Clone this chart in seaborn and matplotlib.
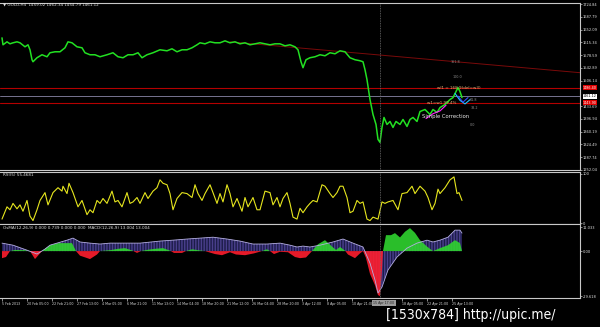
import matplotlib
matplotlib.use("Agg")
import matplotlib.pyplot as plt
import matplotlib.transforms as mtransforms
import numpy as np
import pandas as pd
import seaborn as sns

# ---------------- data ----------------
price_bar = [2, 3, 7, 10, 13, 17, 20, 25, 28, 30, 32, 33, 37, 42, 47, 50, 55, 60, 65, 68, 72, 77, 82, 85,
             90, 95, 100, 107, 113, 118, 123, 128, 133, 138, 142, 147, 153, 160, 167, 172, 177, 182, 187,
             192, 197, 200, 205, 210, 215, 220, 225, 230, 235, 240, 245, 250, 255, 260, 265, 270, 275,
             280, 285, 290, 295, 298, 301, 303, 306, 310, 315, 320, 325, 330, 335, 340, 345, 350, 355,
             360, 363, 365, 367, 370, 373, 376, 378, 380, 382, 384, 387, 390, 393, 396, 400, 403, 407,
             410, 413, 417, 420, 425, 430, 433, 437, 440, 445, 450, 453, 456, 458, 460, 462]
price_close = [1628.3, 1608.5, 1617.0, 1611.3, 1614.2, 1617.0, 1614.2, 1602.8, 1608.5, 1594.3, 1565.9,
               1560.2, 1571.6, 1580.1, 1574.4, 1585.8, 1588.6, 1588.6, 1600.0, 1617.0, 1614.2, 1602.8,
               1600.0, 1585.8, 1580.1, 1580.1, 1574.4, 1580.1, 1585.8, 1574.4, 1571.6, 1580.1, 1580.1,
               1585.8, 1571.6, 1580.1, 1585.8, 1594.3, 1591.4, 1597.1, 1588.6, 1594.3, 1594.3, 1600.0,
               1608.5, 1614.2, 1611.3, 1617.0, 1614.2, 1614.2, 1619.8, 1614.2, 1617.0, 1611.3, 1614.2,
               1608.5, 1611.3, 1614.2, 1611.3, 1608.5, 1611.3, 1611.3, 1605.6, 1608.5, 1602.8, 1594.3,
               1560.2, 1543.2, 1565.9, 1571.6, 1574.4, 1580.1, 1577.2, 1585.8, 1582.9, 1591.4, 1588.6,
               1571.6, 1565.9, 1563.0, 1560.2, 1537.5, 1509.1, 1452.4, 1409.8, 1381.4, 1338.8, 1330.3,
               1372.9, 1401.3, 1381.4, 1389.9, 1372.9, 1389.9, 1381.4, 1395.6, 1375.7, 1395.6, 1401.3,
               1389.9, 1418.3, 1424.0, 1409.8, 1424.0, 1415.5, 1429.6, 1438.2, 1452.4, 1458.0, 1475.1,
               1486.4, 1475.1, 1458.0]

rsi_bar = [2, 7, 10, 13, 17, 20, 23, 27, 30, 33, 37, 40, 45, 48, 53, 58, 62, 63, 67, 69, 73, 78, 82, 87,
           90, 93, 97, 100, 103, 107, 112, 115, 118, 122, 127, 130, 133, 137, 140, 145, 148, 153, 157,
           160, 163, 167, 170, 173, 177, 182, 187, 192, 195, 198, 202, 205, 210, 213, 217, 220, 223,
           227, 230, 233, 237, 242, 245, 248, 253, 257, 260, 265, 270, 273, 277, 280, 283, 287, 290,
           293, 297, 300, 303, 307, 310, 313, 317, 322, 325, 330, 333, 337, 340, 343, 347, 350, 353,
           357, 360, 363, 367, 370, 373, 378, 382, 385, 388, 393, 398, 402, 407, 412, 415, 420, 425,
           428, 432, 435, 438, 440, 445, 450, 454, 457, 459, 462]
rsi_val = [8, 33, 27, 40, 29, 37, 24, 46, 14, 5, 27, 46, 62, 37, 62, 72, 65, 75, 60, 81, 62, 33, 46, 17,
           27, 21, 46, 40, 50, 40, 65, 43, 46, 33, 62, 40, 43, 52, 40, 62, 50, 65, 72, 88, 81, 78, 60,
           27, 50, 62, 60, 52, 78, 60, 46, 60, 78, 62, 40, 60, 43, 78, 60, 33, 50, 24, 52, 33, 52, 27,
           27, 65, 62, 37, 52, 33, 50, 62, 40, 12, 8, 30, 21, 33, 40, 46, 43, 78, 75, 60, 52, 62, 75,
           75, 52, 21, 24, 46, 40, 43, 8, 5, 12, 8, 43, 40, 43, 46, 27, 60, 62, 75, 60, 75, 65, 52, 27,
           40, 69, 60, 72, 88, 94, 60, 62, 46]

osma_bar = [2, 6, 10, 15, 25, 30, 35, 40, 42, 50, 58, 65, 72, 76, 80, 90, 97, 100, 110, 118, 125, 132,
            137, 141, 148, 155, 163, 170, 174, 182, 186, 192, 198, 205, 215, 222, 230, 236, 245, 254,
            262, 267, 270, 274, 280, 288, 295, 300, 306, 312, 318, 325, 332, 336, 340, 345, 348, 355,
            360, 363, 366, 370, 375, 378, 380, 382, 383, 386, 391, 395, 400, 405, 410, 415, 420, 427,
            433, 440, 448, 455, 460, 462]
osma_val = [-3.1, -2.6, 0.0, 0.5, 0.4, 0.0, -3.5, -1.0, 0.0, 2.6, 3.5, 3.5, 3.5, 0.0, -2.0, -3.5, -1.5,
            0.0, 0.4, 1.0, 1.3, 0.3, -0.8, 0.0, 0.6, 1.0, 1.3, 0.2, -0.8, -0.8, 0.0, 0.8, 0.4, 0.0,
            -1.3, -1.8, -0.5, -1.5, -1.8, -1.0, 0.0, 0.8, 0.0, -1.3, -0.3, -0.5, -2.6, -3.1, -2.8, 0.0,
            3.0, 4.8, 2.0, 0.5, 1.8, 0.2, -1.5, -3.1, -1.0, 0.0, -3.0, -10.0, -15.0, -19.3, -19.8,
            -8.0, 0.0, 7.0, 7.0, 7.9, 6.0, 8.5, 10.1, 8.0, 4.8, 2.0, 0.0, 1.3, 2.6, 4.8, 3.5, 0.0]

macd_bar = [2, 13, 27, 37, 45, 50, 67, 73, 80, 90, 100, 110, 127, 140, 160, 173, 187, 200, 213, 227,
            240, 253, 267, 280, 290, 297, 303, 310, 320, 333, 343, 353, 363, 370, 375, 378, 382, 388,
            397, 407, 417, 427, 433, 440, 448, 455, 460, 462]
macd_val = [3.5, 2.6, 0.4, -1.3, 0.9, 2.6, 4.8, 5.7, 4.0, 3.5, 3.1, 3.5, 3.5, 3.5, 4.4, 4.8, 5.3, 5.7,
            6.1, 5.3, 4.4, 3.1, 3.1, 3.5, 2.6, 1.8, 2.2, 1.8, 2.6, 4.0, 5.3, 3.5, 1.8, -5.3, -12.7,
            -18.4, -15.8, -8.3, -2.6, 1.3, 3.5, 4.8, 4.0, 4.8, 6.1, 9.2, 9.2, 7.9]

# 1469.39 is hidden behind the current-price tag in the reference
price_ticks = [1724.84, 1687.79, 1652.09, 1615.34, 1578.59, 1542.89, 1506.14, 1433.69,
               1396.94, 1360.19, 1324.49, 1287.74, 1252.04]
red_levels = [1486.4, 1443.9]
current_price = 1461.12
trend_bar = [230, 580]
trend_price = [1617.0, 1529.0]
wave_m_bar = [426, 433, 440, 446]
wave_m_price = [1398.0, 1412.0, 1420.0, 1436.0]
wave_c_bar = [455, 460, 465, 470]
wave_c_price = [1470.0, 1450.0, 1440.0, 1452.0]
wave_b_bar = [458, 463, 468]
wave_b_price = [1462.0, 1445.0, 1458.0]
cursor_bar = 380

date_bars = [2, 27, 52, 77, 102, 127, 152, 177, 202, 227, 252, 277, 302, 327, 352, 402, 427, 452]
date_labels = ["5 Feb 2013", "20 Feb 05:00", "22 Feb 21:00", "27 Feb 13:00", "4 Mar 05:00",
               "6 Mar 21:00", "11 Mar 13:00", "14 Mar 04:00", "18 Mar 20:00", "21 Mar 12:00",
               "26 Mar 04:00", "28 Mar 20:00", "3 Apr 12:00", "8 Apr 05:00", "10 Apr 21:00",
               "18 Apr 05:00", "22 Apr 21:00", "25 Apr 13:00"]

# ---------------- style ----------------
sns.set_theme(style="dark")
plt.rcParams.update({
    "figure.facecolor": "black", "axes.facecolor": "black", "savefig.facecolor": "black",
    "axes.edgecolor": "#c8c8c8", "axes.grid": False,
})
plt.rcParams["font.family"] = ["DejaVu Sans"]

W, H = 600, 327
fig = plt.figure(figsize=(6.0, 3.27), dpi=100)
axw = 580 / W


def make_ax(top, bottom):
    ax = fig.add_axes([0, 1 - bottom / H, axw, (bottom - top) / H])
    ax.set_facecolor("black")
    for s in ["top", "bottom", "right"]:
        ax.spines[s].set_color("#c8c8c8")
        ax.spines[s].set_linewidth(0.8)
    ax.spines["left"].set_visible(False)
    ax.set_xlim(0, 580)
    ax.yaxis.tick_right()
    ax.tick_params(axis="y", colors="#c8c8c8", labelcolor="#e0e0e0", labelsize=2.6,
                   length=1.2, width=0.5, pad=1.0)
    ax.tick_params(axis="x", bottom=False, labelbottom=False)
    ax.set_xlabel("")
    ax.set_ylabel("")
    return ax


ax1 = make_ax(3, 170)
ax2 = make_ax(172, 224)
ax3 = make_ax(224, 298)

# ---- price panel ----
ax1.set_ylim(1251.5, 1727.7)
ax1.plot(trend_bar, trend_price, color="#7a0a0a", lw=0.7)
for lv in red_levels:
    ax1.axhline(lv, color="#b40000", lw=0.8)
ax1.axhline(current_price, color="#8a86a8", lw=0.6)
sns.lineplot(x=price_bar, y=price_close, ax=ax1, color="#22e022", lw=1.1)
ax1.plot(wave_m_bar, wave_m_price, color="#ff20ff", lw=0.8)
ax1.plot(wave_c_bar, wave_c_price, color="#20c8ff", lw=0.8)
ax1.plot(wave_b_bar, wave_b_price, color="#3050ff", lw=0.8)
ax1.set_yticks(price_ticks)
ax1.set_yticklabels([f"{v:.2f}" for v in price_ticks])
ax1.set_xlabel("")
ax1.set_ylabel("")

ax1.text(437, 1486.4, "wl1 = 168.9(del=w3)", color="#e0b27a", fontsize=3.0, va="center")
ax1.text(427, 1443.9, "w1=w1 99.4%", color="#e0b27a", fontsize=3.0, va="center")
ax1.text(422, 1404.0, "Simple Correction", color="#e8e8e8", fontsize=3.8, va="center")
for bx, py, t in [(451, 1560.0, "161.8"), (453, 1517.0, "100.0"), (470, 1452.0, "61.8"),
                  (471, 1428.0, "38.2"), (470, 1380.0, "0.0")]:
    ax1.text(bx, py, t, color="#8c8c8c", fontsize=2.4, va="center")

trans_r = mtransforms.blended_transform_factory(ax1.transAxes, ax1.transData)
for val, fc, tc in [(red_levels[0], "#e00000", "white"), (red_levels[1], "#e00000", "white"),
                    (current_price, "white", "black")]:
    ax1.text(1.005, val, f"{val:.2f}", transform=trans_r, fontsize=2.4, color=tc,
             va="center", ha="left", bbox=dict(boxstyle="square,pad=0.05", fc=fc, ec="none"))

# ---- RSI panel ----
ax2.set_ylim(-2, 104)
sns.lineplot(x=rsi_bar, y=rsi_val, ax=ax2, color="#e6e61e", lw=0.8)
ax2.set_yticks([100, 0])
ax2.set_yticklabels(["100", "0"])
ax2.set_xlabel("")
ax2.set_ylabel("")

# ---- OsMA / MACD panel ----
ax3.set_ylim(-20.6, 11.9)
mb = np.array(macd_bar, dtype=float)
mv = np.array(macd_val, dtype=float)
ax3.fill_between(mb, 0, mv, facecolor="#1c1c48", edgecolor="#4a3f8c", hatch="||||||", lw=0)
ob = np.array(osma_bar, dtype=float)
ov = np.array(osma_val, dtype=float)
ax3.fill_between(ob, 0, ov, where=ov >= 0, interpolate=True, color="#2fd42f", alpha=0.9, lw=0)
ax3.fill_between(ob, 0, ov, where=ov <= 0, interpolate=True, color="#ff1e2e", alpha=0.9, lw=0)
sns.lineplot(x=macd_bar, y=macd_val, ax=ax3, color="#b4aee0", lw=0.6)
ax3.set_yticks([10.5, 0.0, -19.8])
ax3.set_yticklabels(["11.033", "0.00", "-29.618"])
ax3.set_xlabel("")
ax3.set_ylabel("")
ax3.set_xticks(date_bars)
ax3.set_xticklabels(date_labels, ha="left")
ax3.tick_params(axis="x", bottom=True, labelbottom=True, colors="#c8c8c8", labelcolor="#dcdcdc",
                labelsize=2.3, length=2, width=0.5, pad=1)
ax3.set_xlim(0, 580)

trans_b = mtransforms.blended_transform_factory(ax3.transData, ax3.transAxes)
ax3.text(cursor_bar + 4, -0.035, "15 Apr 17:00", transform=trans_b, fontsize=2.3, color="#202020",
         ha="center", va="top", bbox=dict(boxstyle="square,pad=0.3", fc="#9a9a9a", ec="none"))

for ax in (ax1, ax2, ax3):
    ax.axvline(cursor_bar, color="#6e6e6e", lw=0.6, ls=(0, (1, 1)))
    ax.set_xlim(0, 580)

# ---- texts ----
fig.text(3 / W, 1 - 5 / H, "\u25bc GOLD,H4  1459.02 1462.34 1454.79 1461.12", fontsize=3.0,
         color="#e0e0e0", va="center", ha="left")
fig.text(3 / W, 1 - 175.5 / H, "RSI(5) 55.4681", fontsize=3.0, color="#e0e0e0", va="center")
fig.text(3 / W, 1 - 228 / H,
         "OsMA(12,26,9) 0.000 0.739 0.000 0.000  MACD(12,26,9) 13.004 13.004",
         fontsize=3.0, color="#e0e0e0", va="center")
fig.text(386 / W, 1 - 315 / H, "[1530x784] http://upic.me/", fontsize=10, color="white",
         va="center", ha="left", fontstretch="condensed")

fig.savefig("out.png", dpi=100, facecolor="black")
